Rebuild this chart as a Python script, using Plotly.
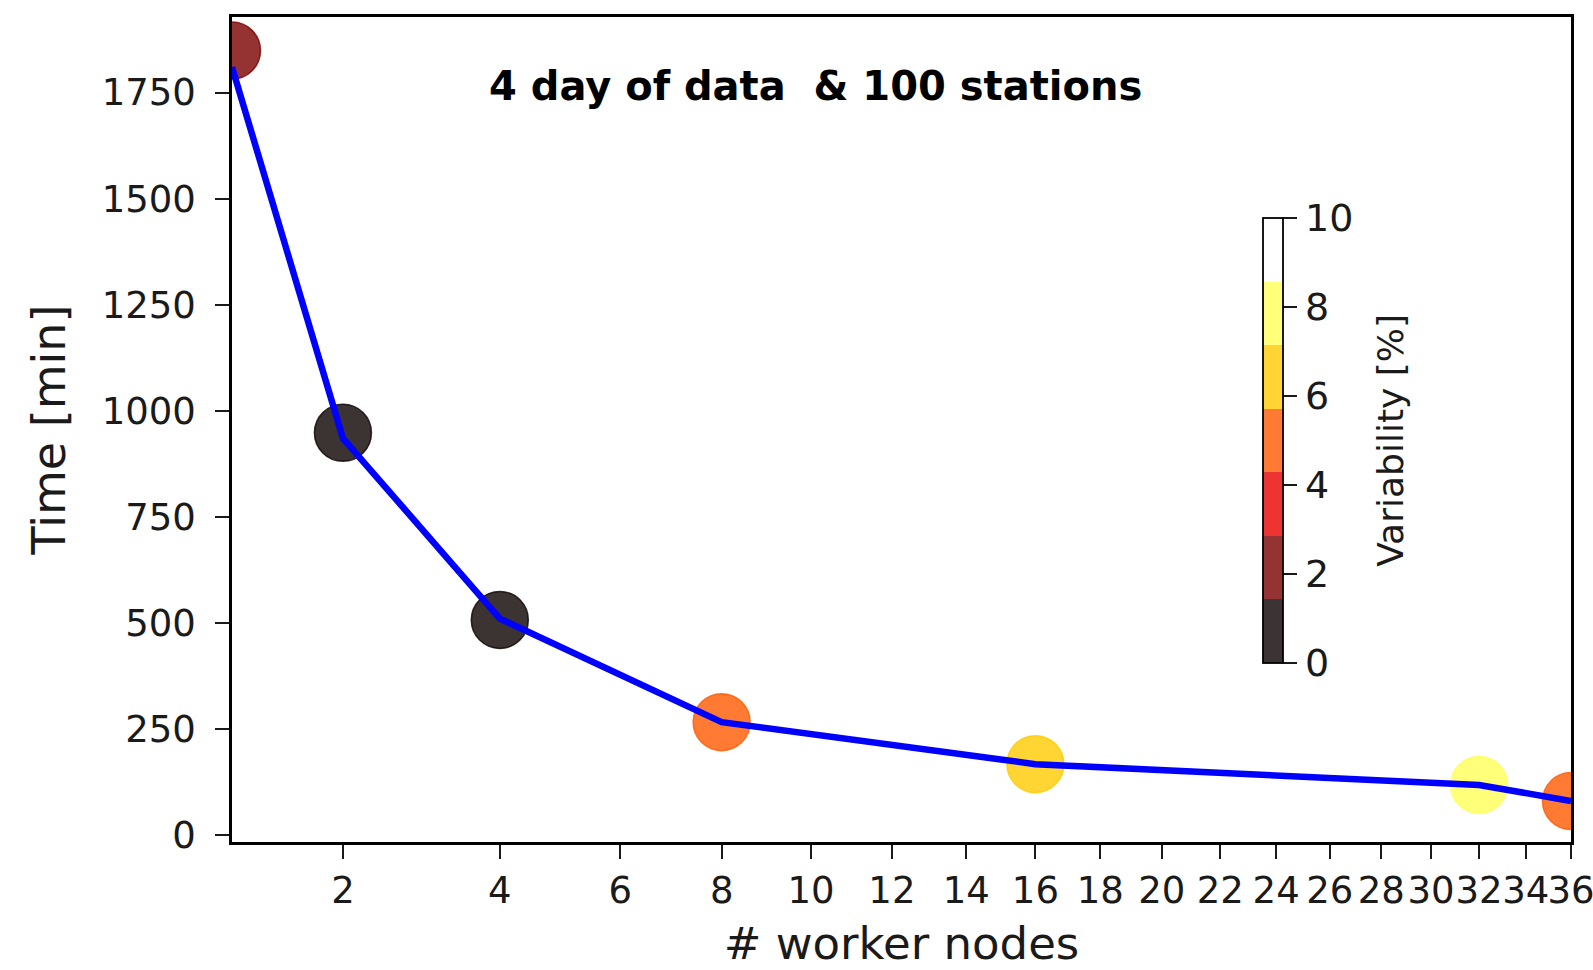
import numpy as np
import plotly.graph_objects as go

# Measured runtimes vs. number of worker nodes
nodes = [1, 2, 4, 8, 16, 32, 36]
time_points = [1849, 948, 507, 266, 167, 118, 80]   # per-run mean times [min]
time_line = [1810, 935, 510, 266, 167, 118, 80]     # connecting curve [min]
variability = [2.2, 0.5, 0.8, 5.0, 6.5, 7.8, 5.2]    # run-to-run variability [%]

x_ticks = list(range(2, 37, 2))
y_ticks = [0, 250, 500, 750, 1000, 1250, 1500, 1750]
cbar_ticks = [0, 2, 4, 6, 8, 10]

# "hot" colormap sampled into 7 discrete levels, alpha 0.8
hot7 = [(11, 0, 0), (122, 0, 0), (234, 0, 0), (255, 90, 0),
        (255, 202, 0), (255, 255, 88), (255, 255, 255)]
n = len(hot7)
cscale = []
for i, (r, g, b) in enumerate(hot7):
    c = f"rgba({r},{g},{b},0.8)"
    cscale.append([i / n, c])
    cscale.append([(i + 1) / n, c])

# square-root scaled x axis
xs = np.sqrt(nodes)

FONT = "DejaVu Sans"
INK = "#1a1a1a"

fig = go.Figure()

fig.add_trace(go.Scatter(
    x=xs, y=time_points, mode="markers",
    marker=dict(
        size=57, color=variability, colorscale=cscale, cmin=0, cmax=10,
        line=dict(width=1.5, color=variability, colorscale=cscale, cmin=0, cmax=10),
        colorbar=dict(
            x=0.770, xanchor="left", xpad=0,
            y=0.4867, yanchor="middle", ypad=0,
            len=0.539, lenmode="fraction", thickness=20,
            outlinewidth=1.8, outlinecolor="black",
            tickmode="array", tickvals=cbar_ticks,
            ticks="outside", ticklen=14, tickwidth=2, tickcolor=INK,
            tickfont=dict(family=FONT, size=38, color=INK),
        ),
    ),
    showlegend=False, hoverinfo="skip",
))

fig.add_trace(go.Scatter(
    x=xs, y=time_line, mode="lines",
    line=dict(color="#0000ff", width=6.5),
    showlegend=False, hoverinfo="skip",
))

# colour bar label
fig.add_annotation(
    text="Variability [%]", textangle=-90,
    x=0.865, y=0.4867, xref="paper", yref="paper",
    xanchor="center", yanchor="middle", showarrow=False,
    font=dict(family=FONT, size=36, color=INK),
)

fig.add_annotation(
    text="4 day of data\u00a0 & 100 stations",
    x=0.436, y=0.916, xref="paper", yref="paper",
    xanchor="center", yanchor="middle", showarrow=False,
    font=dict(family=FONT, size=40, color="black", weight="bold"),
)

fig.update_layout(
    width=1593, height=970,
    margin=dict(l=232, r=22, t=17, b=128),
    paper_bgcolor="white", plot_bgcolor="white",
    xaxis=dict(
        range=[1, 6], tickmode="array",
        tickvals=np.sqrt(x_ticks), ticktext=[str(t) for t in x_ticks],
        tickangle=0, ticklabeloverflow="allow",
        showgrid=False, zeroline=False,
        showline=True, linecolor="black", linewidth=2.5, mirror=True,
        ticks="outside", ticklen=14, tickwidth=2, tickcolor=INK,
        ticklabelstandoff=0,
        tickfont=dict(family=FONT, size=37, color=INK),
        title=dict(text="# worker nodes", standoff=17,
                   font=dict(family=FONT, size=45, color=INK)),
        automargin=False,
    ),
    yaxis=dict(
        range=[-16.5, 1928], tickmode="array", tickvals=y_ticks,
        showgrid=False, zeroline=False,
        showline=True, linecolor="black", linewidth=2.5, mirror=True,
        ticks="outside", ticklen=14, tickwidth=2, tickcolor=INK,
        ticklabelstandoff=12,
        tickfont=dict(family=FONT, size=37, color=INK),
        title=dict(text="Time [min]", standoff=22,
                   font=dict(family=FONT, size=46, color=INK)),
        automargin=False,
    ),
)

fig.write_html("out.html")
